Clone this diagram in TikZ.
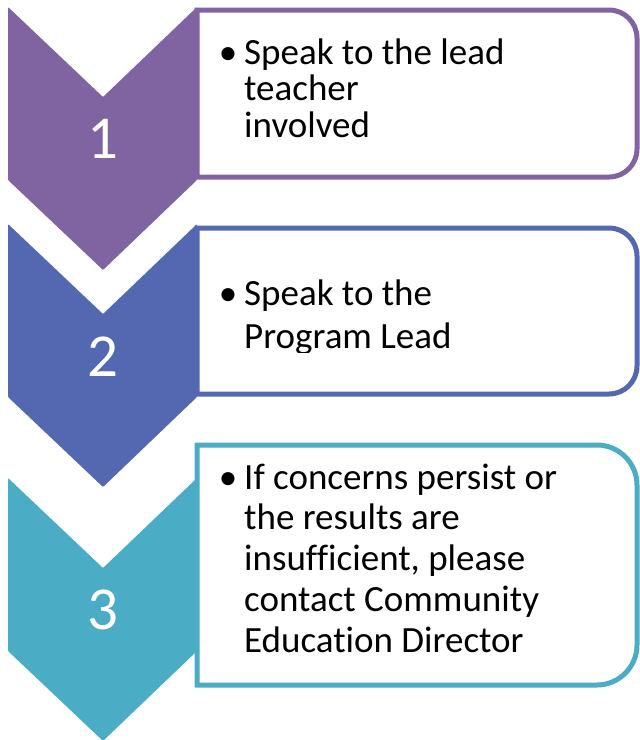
\documentclass[tikz,border=0pt]{standalone}
\usepackage{fontspec}
\setmainfont{Carlito}[Ligatures=NoCommon]
\definecolor{cpurple}{RGB}{128,100,162}
\definecolor{cblue}{RGB}{84,104,178}
\definecolor{cteal}{RGB}{75,172,198}
\tikzset{
  chev/.style={line width=0pt, rounded corners=1pt},
  stepbox/.style={line width=5pt, fill=white, line join=miter},
  txt/.style={anchor=base west, inner sep=0pt, font=\fontsize{37}{40}\selectfont},
  bul/.style={anchor=base, inner sep=0pt, font=\fontsize{37}{40}\selectfont},
  num/.style={text=white, inner sep=0pt, font=\fontsize{61}{61}\selectfont}
}
\begin{document}
\begin{tikzpicture}[x=1pt,y=-1pt]
\useasboundingbox (0,0) rectangle (640,740);
% step 1
\fill[chev, cpurple] (8,7) -- (103,97) -- (197,7) -- (197,180) -- (103,270) -- (8,180) -- cycle;
\draw[stepbox, draw=cpurple] (197,10) -- (609,10) .. controls (624.5,10) and (637,22.5) .. (637,38) -- (637,149) .. controls (637,164.5) and (624.5,177) .. (609,177) -- (197,177) -- cycle;
\node[num] (n1) at (103,139) {1};
\node[bul] (b1) at (228,64) {•};
\node[txt] (t1a) at (244,64) {Speak to the lead};
\node[txt] (t1b) at (244,100) {teacher};
\node[txt] (t1c) at (244,137) {involved};
% step 2
\fill[chev, cblue] (8,224) -- (103,314) -- (197,224) -- (197,397) -- (103,487) -- (8,397) -- cycle;
\draw[stepbox, draw=cblue] (197,228) -- (609,228) .. controls (624.5,228) and (637,240.5) .. (637,256) -- (637,366) .. controls (637,381.5) and (624.5,394) .. (609,394) -- (197,394) -- cycle;
\node[num] (n2) at (103,357) {2};
\begin{scope}
\clip (200,240) rectangle (630,352);
\node[bul] (b2) at (228,305) {•};
\node[txt] (t2a) at (244,305) {Speak to the};
\node[txt] (t2b) at (244,348) {Program Lead};
\end{scope}
% step 3
\fill[chev, cteal] (8,478) -- (103,568) -- (197,478) -- (197,651) -- (103,741) -- (8,651) -- cycle;
\draw[stepbox, draw=cteal] (197,445) -- (597,445) .. controls (619,445) and (637,463) .. (637,485) -- (637,645) .. controls (637,667) and (619,685) .. (597,685) -- (197,685) -- cycle;
\node[num] (n3) at (103,610) {3};
\node[bul] (b3) at (228,489) {•};
\node[txt] (t3a) at (244,489) {If concerns persist or};
\node[txt] (t3b) at (244,529) {the results are};
\node[txt] (t3c) at (244,570) {insufficient, please};
\node[txt] (t3d) at (244,611) {contact Community};
\node[txt] (t3e) at (244,652) {Education Director};
\end{tikzpicture}
\end{document}
